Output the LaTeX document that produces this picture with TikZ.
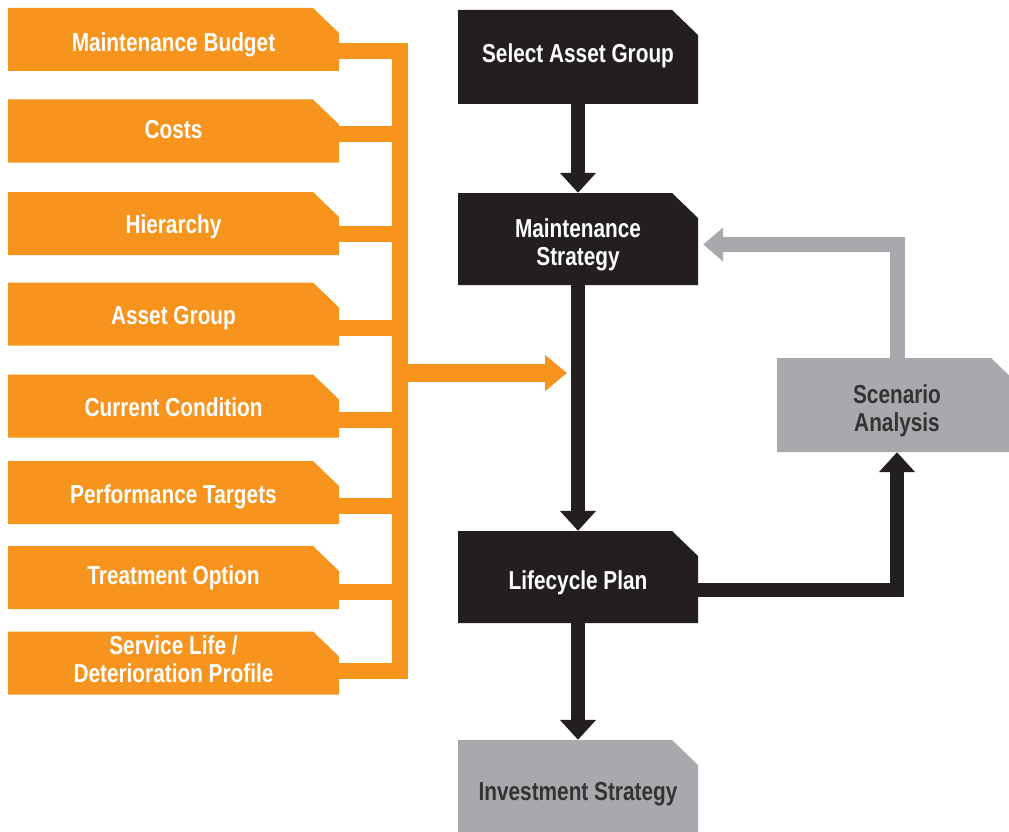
\documentclass[tikz,border=0pt]{standalone}
\usepackage{fontspec}
\setmainfont{Liberation Sans}[FakeStretch=0.8]
\usetikzlibrary{arrows.meta,calc}
\definecolor{orng}{HTML}{F7941D}
\definecolor{blk}{HTML}{231F20}
\definecolor{gry}{HTML}{A7A9AC}
\definecolor{gtxt}{HTML}{333333}
% zero-width struts that place the baseline inside a box
\newcommand\hi[1]{\rule{0pt}{#1pt}}
\newcommand\lo{\rule[-10pt]{0pt}{0pt}}
\tikzset{
  cutbox/.style={draw=none, inner sep=0pt, align=center,
    font=\fontsize{26}{28}\selectfont\bfseries,
    path picture={\fill[#1] (path picture bounding box.south west)
      |- ($(path picture bounding box.north east)+(-26pt,0pt)$)
      -- ($(path picture bounding box.north east)+(0pt,-25pt)$)
      -- (path picture bounding box.south east) -- cycle;}},
  obox/.style={cutbox=orng, text=white, minimum width=331pt, minimum height=63pt},
  bbox/.style={cutbox=blk, text=white, minimum width=240pt, minimum height=92pt},
  gbox/.style={cutbox=gry, text=gtxt, minimum width=240pt, minimum height=94pt},
  oline/.style={draw=orng, line width=16pt, line join=miter},
  barrow/.style={draw=blk, line width=13.5pt, line join=miter,
    -{Triangle[length=20pt,width=35pt]}},
  garrow/.style={draw=gry, line width=15pt, line join=miter,
    -{Triangle[length=20pt,width=33pt]}},
}
\begin{document}
\begin{tikzpicture}[x=1pt,y=-1pt]
\fill[white] (0,0) rectangle (1009,832);
\useasboundingbox (0,0) rectangle (1009,832);

% input boxes
\node[obox] (o1) at (173.5,39.5) {\hi{35}Maintenance Budget\lo};
\node[obox] (o2) at (173.5,131) {\hi{26}Costs\lo};
\node[obox] (o3) at (173.5,223.5) {\hi{29}Hierarchy\lo};
\node[obox] (o4) at (173.5,314) {\hi{30}Asset Group\lo};
\node[obox] (o5) at (173.5,406) {\hi{30}Current Condition\lo};
\node[obox] (o6) at (173.5,492.5) {\hi{31}Performance Targets\lo};
\node[obox] (o7) at (173.5,577.5) {\hi{23}Treatment Option\lo};
\node[obox] (o8) at (173.5,663) {\hi{21}Service Life /\\Deterioration Profile\lo};

% process boxes
\node[bbox, minimum height=94pt] (sag) at (578,57) {\hi{22}Select Asset Group\lo};
\node[bbox] (ms) at (578,239) {\hi{34}Maintenance\\Strategy\lo};
\node[bbox] (lp) at (578,577) {\hi{34}Lifecycle Plan\lo};
\node[gbox, minimum height=92pt] (is) at (578,786) {\hi{38}Investment Strategy\lo};
\node[gbox] (sa) at (897,405) {\hi{34}Scenario\\Analysis\lo};

% orange bus
\coordinate (busmid) at (399.5,373);
\coordinate (oin) at (567,373);
\draw[oline] ($(o1.east)+(0,11.5)$) -| ($(o8.east)+(60.5,8)$) -- ($(o8.east)+(0,8)$);
\draw[oline] ($(o2.east)+(0,3)$) -- ++(60.5,0);
\draw[oline] ($(o3.east)+(0,10.5)$) -- ++(60.5,0);
\draw[oline] ($(o4.east)+(0,14)$) -- ++(60.5,0);
\draw[oline] ($(o5.east)+(0,14)$) -- ++(60.5,0);
\draw[oline] ($(o6.east)+(0,13.5)$) -- ++(60.5,0);
\draw[oline] ($(o7.east)+(0,14.5)$) -- ++(60.5,0);
\draw[oline, line width=18pt, -{Triangle[length=22pt,width=35pt]}] (busmid) -- (oin);

% main flow
\draw[barrow] (sag) -- (ms);
\draw[barrow] (ms) -- (lp);
\draw[barrow] (lp) -- (is);
\draw[barrow, line width=14.5pt] ($(lp.east)+(0,13)$) -| (sa.south);
\draw[garrow] (sa.north) |- ($(ms.east)+(5,5.5)$);
\end{tikzpicture}
\end{document}
